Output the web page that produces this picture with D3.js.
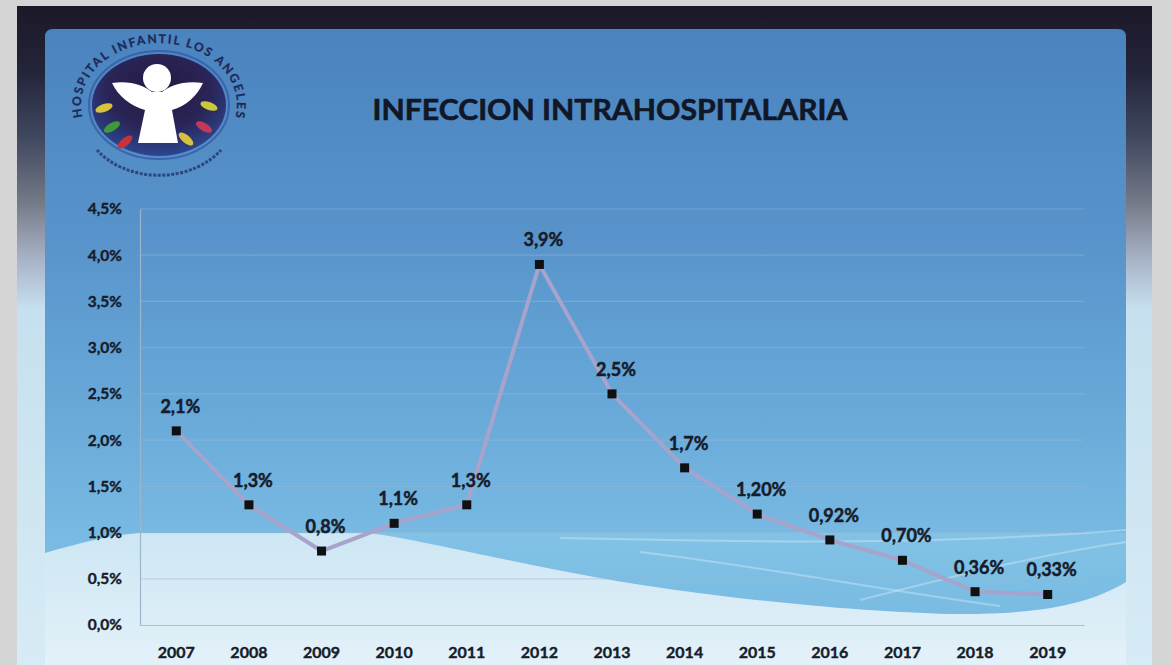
<!DOCTYPE html>
<html>
<head>
<meta charset="utf-8">
<script src="https://cdn.jsdelivr.net/npm/d3@7"></script>
<style>
  html, body { margin: 0; padding: 0; background: #d5d5d5; }
  svg { display: block; }
  text { font-family: Lato, "Open Sans", sans-serif; }
</style>
</head>
<body>
<svg id="chart" width="1172" height="665"></svg>
<script>
// Hospital-acquired infection rate by year (%)
const years = ["2007","2008","2009","2010","2011","2012","2013","2014","2015","2016","2017","2018","2019"];
const rates = [2.1, 1.3, 0.8, 1.1, 1.3, 3.9, 2.5, 1.7, 1.20, 0.92, 0.70, 0.36, 0.33];
const rateLabels = ["2,1%","1,3%","0,8%","1,1%","1,3%","3,9%","2,5%","1,7%","1,20%","0,92%","0,70%","0,36%","0,33%"];
const yTicks = [0, 0.5, 1.0, 1.5, 2.0, 2.5, 3.0, 3.5, 4.0, 4.5];
const title = "INFECCION INTRAHOSPITALARIA";
const logoText = "HOSPITAL INFANTIL LOS ANGELES";

const svg = d3.select("#chart");
const defs = svg.append("defs");

function vGrad(id, y1, y2, stops) {
  const g = defs.append("linearGradient").attr("id", id)
    .attr("gradientUnits", "userSpaceOnUse")
    .attr("x1", 0).attr("x2", 0).attr("y1", y1).attr("y2", y2);
  stops.forEach(([o, c]) => g.append("stop").attr("offset", o).attr("stop-color", c));
}
vGrad("frameGrad", 6, 665, [[0, "#1c1828"], [0.1, "#23253a"], [0.2, "#404860"], [0.3, "#767b88"], [0.38, "#a6b0c4"], [0.46, "#c6e0ef"], [1, "#d6ebf5"]]);
vGrad("panelGrad", 29, 560, [[0, "#4a83be"], [0.4, "#5894cb"], [0.75, "#6aabda"], [1, "#7cbde5"]]);
vGrad("lightGrad", 530, 665, [[0, "#cde6f4"], [1, "#e3f1f9"]]);
vGrad("bandGrad", 530, 615, [[0, "#82c2e6"], [1, "#79bbe2"]]);

const lg = defs.append("radialGradient").attr("id", "logoGrad").attr("cx", "50%").attr("cy", "35%").attr("r", "65%");
lg.append("stop").attr("offset", 0).attr("stop-color", "#24183e");
lg.append("stop").attr("offset", 0.6).attr("stop-color", "#2a2558");
lg.append("stop").attr("offset", 1).attr("stop-color", "#2d468f");

const soft = defs.append("filter").attr("id", "soft");
soft.append("feGaussianBlur").attr("stdDeviation", 0.6);

// Outer dark frame
svg.append("rect").attr("x", 17).attr("y", 6).attr("width", 1135).attr("height", 680)
  .attr("fill", "url(#frameGrad)");

// Inner panel with rounded top corners
const px0 = 45, px1 = 1126, py0 = 29, r = 8;
svg.append("path")
  .attr("d", `M${px0},700 L${px0},${py0 + r} Q${px0},${py0} ${px0 + r},${py0} L${px1 - r},${py0} Q${px1},${py0} ${px1},${py0 + r} L${px1},700 Z`)
  .attr("fill", "url(#panelGrad)");

// Background waves
svg.append("path")
  .attr("d", "M370,533 L1126,533 L1126,582 C1090,604 1040,615 950,614 C850,612 700,596 600,578 C500,560 420,540 370,533 Z")
  .attr("fill", "url(#bandGrad)");
svg.append("path")
  .attr("d", "M45,553 C80,543 110,535 140,533 L370,533 C420,540 500,560 600,578 C700,596 850,612 950,614 C1040,615 1090,604 1126,582 L1126,665 L45,665 Z")
  .attr("fill", "url(#lightGrad)");
const streaks = [
  "M560,538 C700,540 900,548 1126,530",
  "M640,552 C760,566 880,590 1000,606",
  "M860,600 C940,580 1030,556 1126,542"
];
svg.append("g").attr("filter", "url(#soft)").selectAll("path").data(streaks).join("path")
  .attr("d", d => d).attr("fill", "none")
  .attr("stroke", "#e6f4fb").attr("stroke-opacity", 0.35).attr("stroke-width", 2);

// Scales
const x = d3.scaleBand().domain(years).range([140, 1084]).padding(0);
const y = d3.scaleLinear().domain([0, 4.5]).range([625, 209]);
const cx = d => x(d) + x.bandwidth() / 2;

// Gridlines
svg.append("g").selectAll("line").data(yTicks.filter(t => t > 0)).join("line")
  .attr("x1", 140).attr("x2", 1084)
  .attr("y1", d => y(d)).attr("y2", d => y(d))
  .attr("stroke", "#9bb9d0").attr("stroke-opacity", 0.45).attr("stroke-width", 1.2);

const textInk = "#161c2a";

// Y axis
const yAxis = svg.append("g").attr("transform", "translate(140,0)")
  .call(d3.axisLeft(y).tickValues(yTicks).tickSize(0).tickPadding(18)
    .tickFormat(d => d3.format(".1f")(d).replace(".", ",") + "%"));
yAxis.select(".domain").attr("stroke", "#9db5c8").attr("stroke-width", 1.2);
yAxis.selectAll("text").attr("font-size", 15.5).attr("font-weight", 700).attr("fill", textInk)
  .attr("stroke", textInk).attr("stroke-width", 0.4);

// X axis
const xAxis = svg.append("g").attr("transform", "translate(0,625)")
  .call(d3.axisBottom(x).tickSize(0).tickPadding(22));
xAxis.select(".domain").attr("stroke", "#a8bfd0").attr("stroke-width", 1.2);
xAxis.selectAll("text").attr("font-size", 16).attr("font-weight", 700).attr("fill", textInk)
  .attr("stroke", textInk).attr("stroke-width", 0.4);

// Series line
const pts = years.map((yr, i) => ({ yr, v: rates[i], label: rateLabels[i] }));
svg.append("path").datum(pts)
  .attr("d", d3.line().x(d => cx(d.yr)).y(d => y(d.v)))
  .attr("fill", "none").attr("stroke", "#a7a3cb").attr("stroke-width", 4)
  .attr("stroke-linejoin", "round");

// Markers
svg.append("g").selectAll("rect").data(pts).join("rect")
  .attr("x", d => cx(d.yr) - 4.5).attr("y", d => y(d.v) - 4.5)
  .attr("width", 9).attr("height", 9).attr("fill", "#101010");

// Value labels
svg.append("g").selectAll("text").data(pts).join("text")
  .attr("x", d => cx(d.yr) + 4).attr("y", d => y(d.v) - 18)
  .attr("text-anchor", "middle").attr("font-size", 18).attr("font-weight", 700)
  .attr("fill", textInk).attr("stroke", textInk).attr("stroke-width", 0.5)
  .text(d => d.label);

// Title
svg.append("text").attr("x", 610).attr("y", 120).attr("text-anchor", "middle")
  .attr("font-size", 29).attr("font-weight", 700).attr("fill", "#111726")
  .attr("stroke", "#111726").attr("stroke-width", 0.6)
  .attr("textLength", 475).attr("lengthAdjust", "spacingAndGlyphs")
  .text(title);

// Logo
const logo = svg.append("g");
const lcx = 159, lcy = 105;
logo.append("ellipse").attr("cx", lcx).attr("cy", lcy).attr("rx", 70).attr("ry", 54)
  .attr("fill", "none").attr("stroke", "#3c63ad").attr("stroke-width", 2);
logo.append("ellipse").attr("cx", lcx).attr("cy", lcy).attr("rx", 67).attr("ry", 51)
  .attr("fill", "url(#logoGrad)");
// children figures
const kids = [
  [104, 108, "#d8c43a", -20], [112, 127, "#3f9a3a", -30], [125, 142, "#c8323a", -40],
  [209, 106, "#c8c83a", 20], [204, 127, "#c23a5a", 30], [186, 139, "#d8c040", 40]
];
logo.append("g").selectAll("ellipse").data(kids).join("ellipse")
  .attr("cx", d => d[0]).attr("cy", d => d[1]).attr("rx", 9).attr("ry", 4)
  .attr("transform", d => `rotate(${d[3]},${d[0]},${d[1]})`)
  .attr("fill", d => d[2]);
// angel
logo.append("path")
  .attr("d", "M112,83 C130,80 145,86 152,92 L162,92 C169,86 184,80 203,83 C197,96 186,106 172,110 L178,143 L138,143 L145,110 C131,106 118,96 112,83 Z")
  .attr("fill", "#ffffff");
logo.append("circle").attr("cx", 157).attr("cy", 78).attr("r", 14).attr("fill", "#ffffff");
// lettering around the emblem
const arcR = { rx: 78, ry: 62 };
const a0 = 200 * Math.PI / 180, a1 = -20 * Math.PI / 180;
const p0 = [lcx + arcR.rx * Math.cos(a0), lcy - arcR.ry * Math.sin(a0)];
const p1 = [lcx + arcR.rx * Math.cos(a1), lcy - arcR.ry * Math.sin(a1)];
defs.append("path").attr("id", "logoArc")
  .attr("d", `M${p0[0]},${p0[1]} A${arcR.rx},${arcR.ry} 0 1 1 ${p1[0]},${p1[1]}`);
logo.append("text").attr("font-family", "'Liberation Serif', serif").attr("font-size", 12)
  .attr("font-weight", 700).attr("fill", "#1d2a5a").attr("stroke", "#1d2a5a").attr("stroke-width", 0.3)
  .append("textPath").attr("href", "#logoArc").attr("startOffset", "50%")
  .attr("text-anchor", "middle").attr("textLength", 245).text(logoText);
logo.append("path")
  .attr("d", `M${lcx - 62},${lcy + 45} A76,60 0 0 0 ${lcx + 62},${lcy + 45}`)
  .attr("fill", "none").attr("stroke", "#26336a").attr("stroke-width", 3)
  .attr("stroke-dasharray", "3 1.5").attr("opacity", 0.8);
</script>
</body>
</html>
